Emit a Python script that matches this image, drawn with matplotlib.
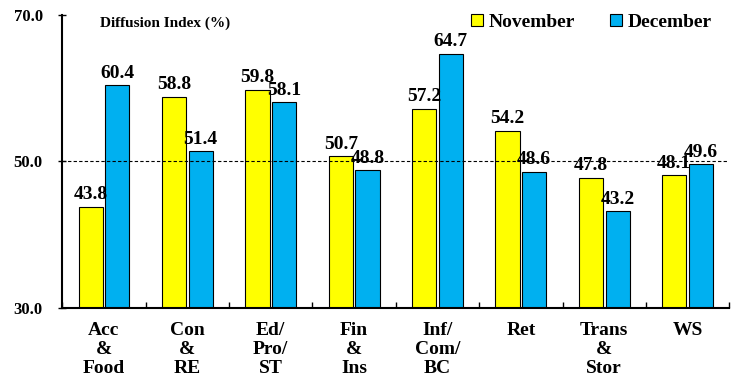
import numpy as np
import matplotlib.pyplot as plt

categories = ["Acc\n&\nFood", "Con\n&\nRE", "Ed/\nPro/\nST", "Fin\n&\nIns",
              "Inf/\nCom/\nBC", "Ret", "Trans\n&\nStor", "WS"]
november = [43.8, 58.8, 59.8, 50.7, 57.2, 54.2, 47.8, 48.1]
december = [60.4, 51.4, 58.1, 48.8, 64.7, 48.6, 43.2, 49.6]

plt.rcParams['font.family'] = ['Liberation Serif', 'DejaVu Serif']
plt.rcParams['font.weight'] = 'bold'

fig = plt.figure(figsize=(7.33, 3.8), dpi=100)
ax = fig.add_axes([0.085, 0.19, 0.91, 0.77])

x = np.arange(len(categories))
w = 0.29
off = 0.16
ax.bar(x - off, november, w, color="#FFFF00", edgecolor="black",
       linewidth=0.8, label="November")
ax.bar(x + off, december, w, color="#00B0F0", edgecolor="black",
       linewidth=0.8, label="December")

# value labels
for xi, v in zip(x - off, november):
    ax.text(xi, v + 0.5, f"{v:.1f}", ha="center", va="bottom", fontsize=14, fontweight="bold")
for xi, v in zip(x + off, december):
    ax.text(xi, v + 0.5, f"{v:.1f}", ha="center", va="bottom", fontsize=14, fontweight="bold")

ax.axhline(50, color="black", linestyle=(0, (3, 2)), linewidth=0.8)

ax.set_ylim(30, 70)
ax.set_xlim(-0.5, 7.5)
ax.set_yticks([30, 50, 70])
ax.set_yticklabels(["30.0", "50.0", "70.0"], fontsize=12, fontweight="bold")
ax.tick_params(axis="y", direction="inout", length=6, pad=11, width=1)

ax.set_xticks(np.arange(-0.5, 8, 1))
ax.set_xticklabels([])
ax.tick_params(axis="x", direction="in", length=4, width=1)
ax.set_xticks(x, minor=True)
ax.set_xticklabels(categories, minor=True, fontsize=14, fontweight="bold",
                   linespacing=1.18)
ax.tick_params(axis="x", which="minor", length=0, pad=10)

ax.spines["top"].set_visible(False)
ax.spines["right"].set_visible(False)
ax.spines["left"].set_linewidth(1.5)
ax.spines["bottom"].set_linewidth(1.5)

ax.text(-0.05, 69.8, "Diffusion Index (%)", fontsize=11, fontweight="bold",
        va="top", ha="left")

ax.legend(loc="upper right", bbox_to_anchor=(1.0, 1.065), ncol=2, frameon=False,
          prop={"size": 14, "weight": "bold"}, handlelength=0.6, handleheight=0.6,
          handletextpad=0.3, columnspacing=1.8)

fig.savefig("out.png", dpi=100)
